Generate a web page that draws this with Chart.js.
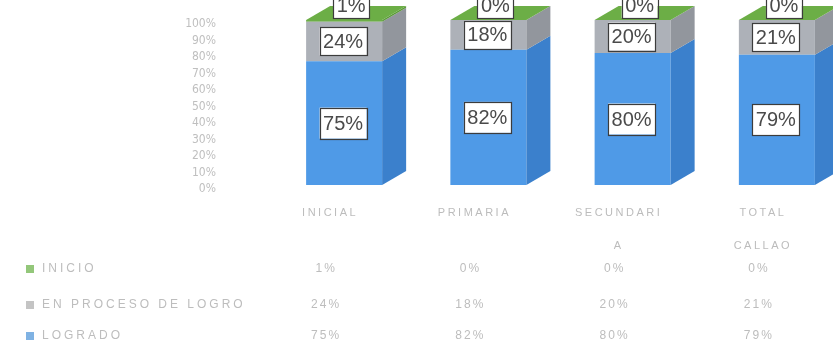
<!DOCTYPE html>
<html>
<head>
<meta charset="utf-8">
<title>Nivel de logro por nivel educativo</title>
<script src="https://cdn.jsdelivr.net/npm/chart.js@4.4.0/dist/chart.umd.min.js"></script>
<style>
  html, body { margin: 0; padding: 0; background: #ffffff; overflow: hidden; }
  #wrap { position: relative; width: 860px; height: 352px; }
</style>
</head>
<body>
<div id="wrap"><canvas id="chart" width="860" height="352"></canvas></div>
<script>
// Categories (multi-line x labels) and the three stacked series, in percent.
const categories = [['INICIAL'], ['PRIMARIA'], ['SECUNDARI', 'A'], ['TOTAL', 'CALLAO']];
const logrado = [75, 82, 80, 79];
const enProceso = [24, 18, 20, 21];
const inicio = [1, 0, 0, 0];
const seriesNames = ['LOGRADO', 'EN PROCESO DE LOGRO', 'INICIO'];
const yTickStep = 10;

// Face colours: front, side, top
const faces = [
  { front: '#4f9ae7', side: '#3b80cc', top: '#5aa3ee' },
  { front: '#adb1b8', side: '#92969d', top: '#bfc2c7' },
  { front: '#6cae46', side: '#5a9a38', top: '#6cae46' }
];
const legendColors = ['#7fb2e3', '#c4c4c4', '#93c77a'];

const DEPTH_X = 24;
const DEPTH_Y = 14;
const TEXT_FONT = '"Liberation Sans", Arial, sans-serif';

// Draws side and top faces for the stacked columns, then the value boxes.
const columns3d = {
  id: 'columns3d',
  afterDatasetsDraw(chart) {
    const ctx = chart.ctx;
    ctx.save();
    const n = chart.data.datasets.length;
    for (let d = 0; d < n; d++) {
      const meta = chart.getDatasetMeta(d);
      meta.data.forEach((bar) => {
        const half = bar.width / 2;
        const right = bar.x + half;
        const top = Math.min(bar.y, bar.base);
        const bottom = Math.max(bar.y, bar.base);
        if (bottom - top > 0) {
          ctx.fillStyle = faces[d].side;
          ctx.beginPath();
          ctx.moveTo(right, top);
          ctx.lineTo(right + DEPTH_X, top - DEPTH_Y);
          ctx.lineTo(right + DEPTH_X, bottom - DEPTH_Y);
          ctx.lineTo(right, bottom);
          ctx.closePath();
          ctx.fill();
        }
        if (d === n - 1) {
          const left = bar.x - half;
          ctx.fillStyle = faces[d].top;
          ctx.beginPath();
          ctx.moveTo(left, top);
          ctx.lineTo(left + DEPTH_X, top - DEPTH_Y);
          ctx.lineTo(right + DEPTH_X, top - DEPTH_Y);
          ctx.lineTo(right, top);
          ctx.closePath();
          ctx.fill();
        }
      });
    }

    // value boxes
    ctx.font = '20px ' + TEXT_FONT;
    ctx.textAlign = 'center';
    ctx.textBaseline = 'middle';
    for (let d = 0; d < n; d++) {
      const meta = chart.getDatasetMeta(d);
      const values = chart.data.datasets[d].data;
      meta.data.forEach((bar, i) => {
        const txt = values[i] + '%';
        let cx, cy, h;
        if (d === n - 1) {
          cx = bar.x + 7;
          cy = Math.min(bar.y, bar.base) - 15;
          h = 26;
        } else {
          cx = bar.x - 1;
          cy = (bar.y + bar.base) / 2;
          h = d === 0 ? 31 : 28;
        }
        const w = ctx.measureText(txt).width + 7;
        ctx.fillStyle = '#ffffff';
        ctx.fillRect(cx - w / 2, cy - h / 2, w, h);
        ctx.strokeStyle = '#3c3c3c';
        ctx.lineWidth = 1.2;
        ctx.strokeRect(Math.round(cx - w / 2) + 0.5, Math.round(cy - h / 2) + 0.5, Math.round(w), h);
        ctx.fillStyle = '#4a4a4a';
        ctx.fillText(txt, cx, cy + 1);
      });
    }
    ctx.restore();
    // wide tracking for the category labels drawn next
    ctx.letterSpacing = '2.5px';
  },
  afterDraw(chart) {
    const ctx = chart.ctx;
    const x = chart.scales.x;
    const rows = [2, 1, 0];            // INICIO, EN PROCESO, LOGRADO
    const rowY = [269, 305, 336];
    ctx.save();
    ctx.textBaseline = 'middle';
    rows.forEach((d, r) => {
      const y = rowY[r];
      ctx.fillStyle = legendColors[d];
      ctx.fillRect(26, y - 4, 8, 8);
      ctx.letterSpacing = '3px';
      ctx.font = '12px ' + TEXT_FONT;
      ctx.fillStyle = '#bdbdbd';
      ctx.textAlign = 'left';
      ctx.fillText(seriesNames[d], 42, y);
      ctx.letterSpacing = '2px';
      ctx.textAlign = 'center';
      chart.data.datasets[d].data.forEach((v, i) => {
        ctx.fillText(v + '%', x.getPixelForValue(i) - 18, y);
      });
    });
    ctx.restore();
    ctx.letterSpacing = '0px';
  }
};

new Chart(document.getElementById('chart'), {
  type: 'bar',
  data: {
    labels: categories,
    datasets: [
      { label: seriesNames[0], data: logrado, backgroundColor: faces[0].front },
      { label: seriesNames[1], data: enProceso, backgroundColor: faces[1].front },
      { label: seriesNames[2], data: inicio, backgroundColor: faces[2].front }
    ]
  },
  options: {
    responsive: false,
    animation: false,
    devicePixelRatio: 1,
    categoryPercentage: 1,
    barPercentage: 0.527,
    layout: { padding: { left: 0, right: 11, top: 20, bottom: 87 } },
    plugins: { legend: { display: false }, tooltip: { enabled: false } },
    scales: {
      x: {
        stacked: true,
        grid: { display: false, drawTicks: false },
        border: { display: false },
        ticks: {
          z: 1,
          color: '#bcbcbc',
          font: { family: TEXT_FONT, size: 11, lineHeight: 3 },
          padding: 11,
          labelOffset: -14,
          maxRotation: 0,
          autoSkip: false
        },
        afterFit(scale) { scale.height = 80; }
      },
      y: {
        stacked: true,
        min: 0,
        max: 100,
        grid: { display: false, drawTicks: false },
        border: { display: false },
        ticks: {
          stepSize: yTickStep,
          autoSkip: false,
          color: '#bfbfbf',
          font: { family: '"Liberation Sans Narrow", "DejaVu Sans Condensed", "Liberation Sans", sans-serif', size: 12, lineHeight: 1 },
          padding: 56,
          labelOffset: 4,
          callback: (v) => v + '%'
        },
        afterFit(scale) {
          scale.width = 272;
          scale.paddingTop = 0;
          scale.paddingBottom = 0;
        }
      }
    }
  },
  plugins: [columns3d]
});
</script>
</body>
</html>
